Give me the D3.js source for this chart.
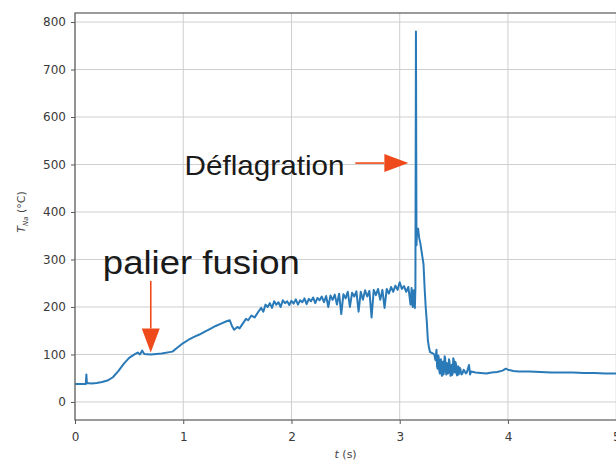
<!DOCTYPE html>
<meta charset="utf-8">
<script src="https://d3js.org/d3.v7.min.js"></script>
<style>
  body { margin: 0; background: #fff; }
  svg text { font-family: "DejaVu Sans", sans-serif; }
</style>
<div id="chart"></div>
<script>
// time (s) and sodium temperature (°C)
const times = [
  0, 0.05, 0.1, 0.105, 0.11, 0.15, 0.2, 0.25, 0.3, 0.35, 0.4, 0.45, 0.5, 0.55, 0.58, 0.6, 0.62, 0.64, 0.7, 0.8, 0.9, 0.95, 1.0,
  1.05, 1.1, 1.15, 1.2, 1.25, 1.3, 1.35, 1.4, 1.43, 1.45, 1.47, 1.5, 1.52, 1.55, 1.58, 1.6, 1.63, 1.66, 1.7,
  1.72, 1.74, 1.76, 1.78, 1.8, 1.82, 1.84, 1.86, 1.88, 1.9, 1.92, 1.94, 1.96, 1.98, 2.0, 2.02, 2.04, 2.06, 2.08, 2.1,
  2.12, 2.14, 2.16, 2.18, 2.2, 2.22, 2.24, 2.26, 2.28, 2.3, 2.32, 2.34, 2.36, 2.38, 2.4, 2.42, 2.44, 2.46, 2.48, 2.5,
  2.52, 2.54, 2.56, 2.58, 2.6, 2.62, 2.64, 2.66, 2.68, 2.7, 2.72, 2.74, 2.76, 2.78, 2.8, 2.82, 2.84, 2.86, 2.88, 2.9,
  2.92, 2.94, 2.96, 2.98, 3.0, 3.02, 3.04, 3.06, 3.08, 3.1, 3.11, 3.12, 3.13, 3.14, 3.145,
  3.15, 3.155, 3.16, 3.17, 3.18, 3.19, 3.2, 3.21, 3.22, 3.23, 3.24, 3.25, 3.26, 3.27, 3.28, 3.3, 3.32,
  3.33, 3.335, 3.34, 3.345, 3.35, 3.355, 3.36, 3.365, 3.37, 3.375, 3.38, 3.385, 3.39, 3.395, 3.4, 3.405,
  3.41, 3.415, 3.42, 3.425, 3.43, 3.435, 3.44, 3.445, 3.45, 3.455, 3.46, 3.465, 3.47, 3.475, 3.48, 3.485,
  3.49, 3.495, 3.5, 3.505, 3.51, 3.515, 3.52, 3.525, 3.53, 3.535, 3.54, 3.545, 3.55, 3.555, 3.56, 3.57,
  3.58, 3.59, 3.6, 3.61, 3.62, 3.63, 3.64, 3.65, 3.66, 3.7, 3.75, 3.8, 3.85, 3.9, 3.95, 3.98,
  4.0, 4.05, 4.1, 4.2, 4.3, 4.4, 4.5, 4.6, 4.7, 4.8, 4.9, 5.0, 5.1, 5.2
];
const temps = [
  38, 38, 38, 58, 40, 39, 40, 42, 45, 52, 65, 80, 93, 100, 104, 100, 108, 101, 100, 102, 106, 115, 124,
  131, 137, 142, 148, 154, 160, 165, 170, 172, 160, 152, 158, 155, 165, 175, 172, 182, 178, 192,
  198, 190, 205, 200, 208, 198, 212, 205, 210, 200, 214, 208, 212, 204, 213, 207, 216, 205, 214, 210,
  218, 206, 217, 212, 220, 208, 219, 214, 222, 210, 223, 200, 224, 215, 226, 205, 228, 185, 227, 218,
  232, 200, 230, 222, 233, 190, 232, 215, 235, 222, 234, 178, 236, 225, 238, 215, 236, 198, 238, 228,
  242, 232, 245, 236, 252, 238, 244, 232, 242, 205, 240, 200, 235, 198, 240,
  780, 330, 360, 365, 345, 335, 320, 305, 290, 240, 200, 170, 130, 115, 105, 103, 100,
  88, 100, 110, 75, 70, 98, 95, 68, 60, 85, 90, 62, 55, 80, 85, 58,
  65, 96, 92, 70, 58, 82, 80, 60, 62, 90, 85, 64, 55, 76, 78, 57,
  60, 92, 88, 66, 62, 84, 80, 60, 56, 74, 75, 58, 62, 72, 70, 58,
  60, 68, 65, 60, 62, 70, 78, 58, 64, 62, 61, 60, 62, 63, 66, 70,
  68, 65, 64, 64, 63, 62, 62, 62, 61, 61, 60, 60, 60, 60
];
const xTicks = [0, 1, 2, 3, 4, 5];
const yTicks = [0, 100, 200, 300, 400, 500, 600, 700, 800];

const data = times.map((t, i) => ({t: t, v: temps[i]}));

const W = 616, H = 465;
const margin = {top: 13, right: -24, bottom: 45, left: 75};
const width = W - margin.left - margin.right,
      height = H - margin.top - margin.bottom;

const svg = d3.select("#chart").append("svg")
    .attr("width", W).attr("height", H);
const g = svg.append("g")
    .attr("transform", `translate(${margin.left},${margin.top})`);

const x = d3.scaleLinear().domain([0, 5.22]).range([0, width]);
const y = d3.scaleLinear().domain([-38, 819]).range([height, 0]);

// grid
g.append("g").selectAll("line").data(xTicks).join("line")
    .attr("x1", d => x(d)).attr("x2", d => x(d))
    .attr("y1", 0).attr("y2", height)
    .attr("stroke", "#cfcfcf").attr("stroke-width", 1);
g.append("g").selectAll("line").data(yTicks).join("line")
    .attr("x1", 0).attr("x2", width)
    .attr("y1", d => y(d)).attr("y2", d => y(d))
    .attr("stroke", "#cfcfcf").attr("stroke-width", 1);

// data line
g.append("path")
    .datum(data)
    .attr("d", d3.line().x(d => x(d.t)).y(d => y(d.v)))
    .attr("fill", "none")
    .attr("stroke", "#2a7ab8")
    .attr("stroke-width", 2)
    .attr("stroke-linejoin", "round");

// axes
const xAxis = g.append("g")
    .attr("transform", `translate(0,${height})`)
    .call(d3.axisBottom(x).tickValues(xTicks).tickFormat(d3.format("d")).tickSizeOuter(0).tickSize(4).tickPadding(8));
const yAxis = g.append("g")
    .call(d3.axisLeft(y).tickValues(yTicks).tickFormat(d3.format("d")).tickSizeOuter(0).tickSize(4).tickPadding(5));
[xAxis, yAxis].forEach(a => {
  a.select(".domain").remove();
  a.selectAll(".tick line").attr("stroke", "#555");
  a.selectAll(".tick text").attr("fill", "#3a3a3a").style("font-size", "12px");
});

// frame
g.append("rect")
    .attr("x", 0).attr("y", 0).attr("width", width).attr("height", height)
    .attr("fill", "none").attr("stroke", "#666").attr("stroke-width", 1.3);

// axis labels
const yl = svg.append("text")
    .attr("transform", `translate(25,${margin.top + y(400)}) rotate(-90)`)
    .attr("text-anchor", "middle")
    .attr("fill", "#444").style("font-size", "11px");
yl.append("tspan").attr("font-style", "italic").text("T");
yl.append("tspan").attr("dy", 3).style("font-size", "7px").attr("font-style", "italic").text("Na");
yl.append("tspan").attr("dy", -3).text(" (°C)");

const xl = svg.append("text")
    .attr("x", margin.left + x(2.5)).attr("y", 458)
    .attr("text-anchor", "middle")
    .attr("fill", "#444").style("font-size", "11px");
xl.append("tspan").attr("font-style", "italic").text("t");
xl.append("tspan").text(" (s)");

// annotations
const red = "#ee4a1c";
function arrow(x1, y1, x2, y2) {
  const ang = Math.atan2(y2 - y1, x2 - x1);
  const len = 24, half = 9;
  const bx = x2 - len * Math.cos(ang), by = y2 - len * Math.sin(ang);
  g.append("line")
      .attr("x1", x1).attr("y1", y1).attr("x2", bx).attr("y2", by)
      .attr("stroke", red).attr("stroke-width", 1.6);
  const px = -Math.sin(ang) * half, py = Math.cos(ang) * half;
  g.append("path")
      .attr("d", `M${x2},${y2}L${bx + px},${by + py}L${bx - px},${by - py}Z`)
      .attr("fill", red);
}

g.append("text")
    .attr("x", x(0.257)).attr("y", y(270))
    .attr("textLength", 197).attr("lengthAdjust", "spacingAndGlyphs")
    .attr("fill", "#1a1a1a")
    .style("font-family", "'Liberation Sans', Arial, sans-serif")
    .style("font-size", "33px")
    .text("palier fusion");
arrow(x(0.7), y(255), x(0.7), y(104));

g.append("text")
    .attr("x", x(2.49)).attr("y", y(477))
    .attr("text-anchor", "end")
    .attr("textLength", 160).attr("lengthAdjust", "spacingAndGlyphs")
    .attr("fill", "#1a1a1a")
    .style("font-family", "'Liberation Sans', Arial, sans-serif")
    .style("font-size", "28px")
    .text("Déflagration");
arrow(x(2.59), y(503), x(3.08), y(503));
</script>
